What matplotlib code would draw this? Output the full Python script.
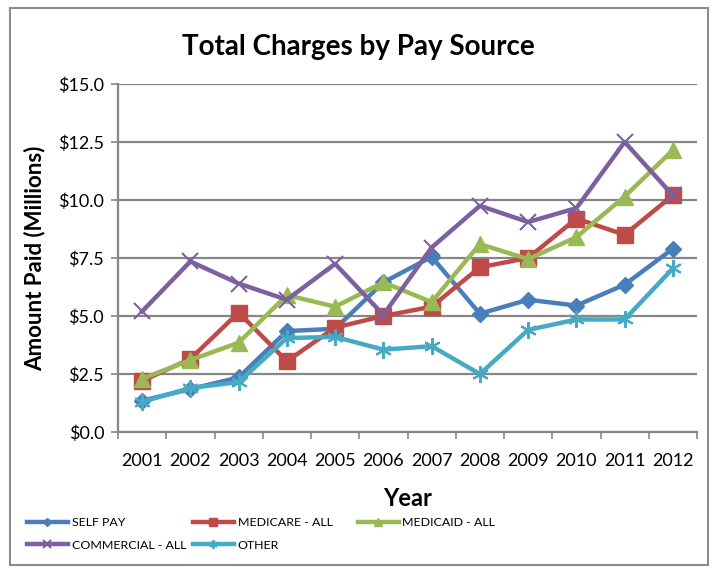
import matplotlib
matplotlib.use("Agg")
import matplotlib.pyplot as plt
from matplotlib.patches import Rectangle
from matplotlib.ticker import FixedLocator, FuncFormatter

plt.rcParams['font.family'] = ['Lato', 'DejaVu Sans']

years = ["2001", "2002", "2003", "2004", "2005", "2006",
         "2007", "2008", "2009", "2010", "2011", "2012"]
self_pay = [1.35, 1.85, 2.35, 4.35, 4.45, 6.45, 7.55, 5.1, 5.7, 5.45, 6.35, 7.9]
medicare = [2.2, 3.15, 5.15, 3.05, 4.5, 5.0, 5.4, 7.1, 7.5, 9.2, 8.5, 10.2]
medicaid = [2.3, 3.1, 3.85, 5.9, 5.4, 6.45, 5.6, 8.1, 7.45, 8.4, 10.15, 12.15]
commercial = [5.2, 7.35, 6.4, 5.7, 7.25, 5.05, 7.95, 9.75, 9.05, 9.65, 12.5, 10.2]
other = [1.3, 1.9, 2.15, 4.05, 4.1, 3.55, 3.7, 2.5, 4.4, 4.85, 4.85, 7.05]

series_names = ["SELF PAY", "MEDICARE - ALL", "MEDICAID - ALL", "COMMERCIAL - ALL", "OTHER"]
series_values = [self_pay, medicare, medicaid, commercial, other]
colors = ["#4A7EBB", "#BE4B48", "#98B954", "#7D60A0", "#46AAC5"]
markers = ["D", "s", "^", "x", (6, 2, 0)]
msizes = [8, 12, 11, 11, 12]

fig = plt.figure(figsize=(7.14, 5.68), dpi=100)
W, H = 714, 568
# chart border
fig.patches.append(Rectangle((10 / W, 1 - 565 / H), 698 / W, (565 - 8) / H,
                             transform=fig.transFigure, fill=False,
                             edgecolor="#8c8c8c", linewidth=1.5))

ax = fig.add_axes([118 / W, 1 - 432 / H, (697 - 118) / W, (432 - 84) / H])
x = list(range(len(years)))
handles = []
for name, vals, c, m, ms in zip(series_names, series_values, colors, markers, msizes):
    mew = 1.5 if m in ("x",) or isinstance(m, tuple) else 1
    h, = ax.plot(x, vals, color=c, linewidth=3.2, marker=m, markersize=ms,
                 markeredgewidth=mew, markeredgecolor=c, markerfacecolor=c,
                 label=name, zorder=3, solid_joinstyle="round")
    handles.append(h)

ax.set_xlim(-0.5, len(years) - 0.5)
ax.set_ylim(0, 15)
ax.set_yticks([0, 2.5, 5, 7.5, 10, 12.5, 15])
ax.yaxis.set_major_formatter(FuncFormatter(lambda v, p: "${:.1f}".format(v)))
ax.grid(axis="y", color="#868686", linewidth=1.6)
ax.set_axisbelow(True)
for s in ["top", "right"]:
    ax.spines[s].set_visible(False)
for s in ["left", "bottom"]:
    ax.spines[s].set_color("#868686")
    ax.spines[s].set_linewidth(1.6)

ax.set_xticks(x)
ax.set_xticklabels(years)
ax.xaxis.set_minor_locator(FixedLocator([i - 0.5 for i in range(len(years) + 1)]))
ax.tick_params(axis="x", which="major", length=0, pad=15, labelsize=13)
ax.tick_params(axis="x", which="minor", length=5, width=1.2, color="#868686", direction="out")
ax.tick_params(axis="y", length=5, width=1.2, color="#868686", labelsize=13, pad=5)

ax.set_xlabel("Year", fontsize=17, fontweight="bold", labelpad=13)
ax.set_ylabel("Amount Paid (Millions)", fontsize=16, fontweight="bold", labelpad=9)
fig.text(358 / W, 1 - 47 / H, "Total Charges by Pay Source", ha="center", va="center",
         fontsize=20, fontweight="bold")

# legend: three columns laid out as in the original (row-major order)
cols = [[0, 3], [1, 4], [2]]
col_x = [27, 193, 358]
for idxs, cx in zip(cols, col_x):
    leg = fig.legend([handles[i] for i in idxs], [series_names[i] for i in idxs],
                     loc="upper left", bbox_to_anchor=(cx / W, 1 - 517 / H),
                     frameon=False, fontsize=8.9, handlelength=3.3, markerscale=0.5,
                     handletextpad=0.3, labelspacing=0.95, borderpad=0, borderaxespad=0)

fig.savefig("out.png", dpi=100)
